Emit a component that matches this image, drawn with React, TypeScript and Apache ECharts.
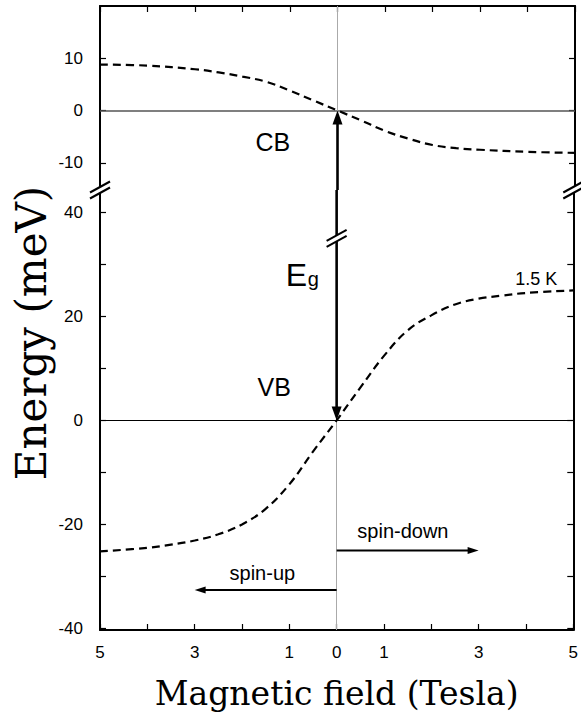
import React, { useEffect, useRef } from "react";
import * as echarts from "echarts";

// Magnetic field (Tesla); negative = spin-up side (left), positive = spin-down side (right)
const FIELD_CB = [-5, -4, -3, -2.5, -2, -1.5, -1, -0.5, 0, 0.5, 1, 1.5, 2, 2.5, 3, 4, 5];
const ENERGY_CB = [8.8, 8.6, 7.9, 7.3, 6.5, 5.5, 3.8, 1.9, 0, -1.9, -3.9, -5.4, -6.6, -7.2, -7.5, -7.9, -8.1];

const FIELD_VB = [-5, -4, -3.5, -3, -2.5, -2, -1.5, -1, -0.5, 0, 0.5, 1, 1.5, 2, 2.5, 3, 3.5, 4, 5];
const ENERGY_VB = [-25.2, -24.5, -23.9, -23.1, -21.9, -20.0, -17.0, -12.3, -6.0, 0, 6.3, 12.4, 17.3, 20.2, 22.3, 23.4, 24.0, 24.5, 25.0];

const X_TICK_LABELS = [-5, -3, -1, 0, 1, 3, 5];
const CB_TICKS = [-10, 0, 10];
const VB_TICKS = [-40, -30, -20, -10, 0, 10, 20, 30, 40];
const VB_TICK_LABELS = [-40, -20, 0, 20, 40];

const CB_MIN = -15.2;
const CB_MAX = 20;
const VB_MIN = -40.3;
const VB_MAX = 44.3;

const SANS = '"Liberation Sans", Arial, Helvetica, sans-serif';
const SERIF = '"DejaVu Serif", serif';

function arrow(from: number[], to: number[], width: number, headLen: number, headW: number) {
  const dx = to[0] - from[0];
  const dy = to[1] - from[1];
  const len = Math.sqrt(dx * dx + dy * dy) || 1;
  const ux = dx / len;
  const uy = dy / len;
  const nx = -uy;
  const ny = ux;
  const bx = to[0] - ux * headLen;
  const by = to[1] - uy * headLen;
  return [
    {
      type: "line",
      shape: { x1: from[0], y1: from[1], x2: to[0] - ux * headLen * 0.6, y2: to[1] - uy * headLen * 0.6 },
      style: { stroke: "#000", lineWidth: width },
    },
    {
      type: "polygon",
      shape: {
        points: [
          [to[0], to[1]],
          [bx + (nx * headW) / 2, by + (ny * headW) / 2],
          [bx - (nx * headW) / 2, by - (ny * headW) / 2],
        ],
      },
      style: { fill: "#000" },
    },
  ];
}

function breakMark(c: number[]) {
  const a = 10;
  const b = 5.5;
  const g = 3;
  const p1a = [c[0] - a, c[1] + b - g];
  const p2a = [c[0] + a, c[1] - b - g];
  const p1b = [c[0] - a, c[1] + b + g];
  const p2b = [c[0] + a, c[1] - b + g];
  return [
    { type: "polygon", shape: { points: [p1a, p2a, p2b, p1b] }, style: { fill: "#fff" } },
    { type: "line", shape: { x1: p1a[0], y1: p1a[1], x2: p2a[0], y2: p2a[1] }, style: { stroke: "#000", lineWidth: 2 } },
    { type: "line", shape: { x1: p1b[0], y1: p1b[1], x2: p2b[0], y2: p2b[1] }, style: { stroke: "#000", lineWidth: 2 } },
  ];
}

function txt(p: number[], text: string, size: number, align = "center") {
  return {
    type: "text",
    x: p[0],
    y: p[1],
    style: { text, fontSize: size, fontFamily: SANS, fill: "#000", align, verticalAlign: "middle" },
  };
}

export default function App() {
  const ref = useRef<HTMLDivElement>(null);

  useEffect(() => {
    if (!ref.current) return;
    const chart = echarts.init(ref.current, null, { renderer: "svg" });

    const axisLine = { show: true, onZero: false, lineStyle: { color: "#000", width: 2 } };
    const tick = { show: true, inside: true, length: 6, lineStyle: { color: "#000", width: 1.2 } };

    const option: any = {
      animation: false,
      backgroundColor: "#fff",
      grid: [
        { left: 100, right: 6, top: 6, height: 184 },
        { left: 100, right: 6, top: 190, height: 442 },
      ],
      xAxis: [
        {
          gridIndex: 0, type: "value", position: "top", min: -5, max: 5, interval: 1,
          axisLine, axisTick: tick, axisLabel: { show: false }, splitLine: { show: false },
        },
        {
          gridIndex: 1, type: "value", position: "bottom", min: -5, max: 5, interval: 1,
          axisLine, axisTick: tick, splitLine: { show: false },
          axisLabel: {
            show: true, customValues: X_TICK_LABELS, formatter: (v: number) => String(Math.abs(v)),
            fontSize: 17, fontFamily: SANS, color: "#000", margin: 14,
          },
          name: "Magnetic field (Tesla)", nameLocation: "middle", nameGap: 47,
          nameTextStyle: { fontSize: 33, fontFamily: SERIF, color: "#000" },
        },
      ],
      yAxis: [
        {
          gridIndex: 0, type: "value", position: "left", min: CB_MIN, max: CB_MAX,
          axisLine, axisTick: { ...tick, customValues: CB_TICKS }, splitLine: { show: false },
          axisLabel: { customValues: CB_TICKS, fontSize: 17, fontFamily: SANS, color: "#000", margin: 17 },
        },
        {
          gridIndex: 0, type: "value", position: "right", min: CB_MIN, max: CB_MAX,
          axisLine, axisTick: { ...tick, customValues: CB_TICKS }, splitLine: { show: false },
          axisLabel: { show: false },
        },
        {
          gridIndex: 1, type: "value", position: "left", min: VB_MIN, max: VB_MAX,
          axisLine, axisTick: { ...tick, customValues: VB_TICKS }, splitLine: { show: false },
          axisLabel: { customValues: VB_TICK_LABELS, fontSize: 17, fontFamily: SANS, color: "#000", margin: 17 },
        },
        {
          gridIndex: 1, type: "value", position: "right", min: VB_MIN, max: VB_MAX,
          axisLine, axisTick: { ...tick, customValues: VB_TICKS }, splitLine: { show: false },
          axisLabel: { show: false },
        },
      ],
      graphic: [
        {
          type: "text", x: 31, y: 333, rotation: Math.PI / 2,
          style: { text: "Energy (meV)", fontSize: 42, fontFamily: SERIF, fill: "#000", align: "center", verticalAlign: "middle" },
        },
      ],
      series: [
        {
          name: "CB", type: "line", xAxisIndex: 0, yAxisIndex: 0, smooth: 0.4, symbol: "none", z: 3,
          data: FIELD_CB.map((b, i) => [b, ENERGY_CB[i]]),
          lineStyle: { color: "#000", width: 2.2, type: [8, 5] },
          markLine: {
            silent: true, symbol: "none", label: { show: false }, z: 1,
            lineStyle: { type: "solid" },
            data: [
              { yAxis: 0, lineStyle: { color: "#555", width: 1.5, type: "solid" } },
              { xAxis: 0, lineStyle: { color: "#aaa", width: 1, type: "solid" } },
            ],
          },
        },
        {
          name: "VB", type: "line", xAxisIndex: 1, yAxisIndex: 2, smooth: 0.4, symbol: "none", z: 3,
          data: FIELD_VB.map((b, i) => [b, ENERGY_VB[i]]),
          lineStyle: { color: "#000", width: 2.2, type: [8, 5] },
          markLine: {
            silent: true, symbol: "none", label: { show: false }, z: 1,
            lineStyle: { type: "solid" },
            data: [
              { yAxis: 0, lineStyle: { color: "#000", width: 1, type: "solid" } },
              { xAxis: 0, lineStyle: { color: "#aaa", width: 1, type: "solid" } },
            ],
          },
        },
        {
          type: "custom", xAxisIndex: 0, yAxisIndex: 0, clip: false, z: 10, silent: true,
          data: [[0, 0]],
          renderItem: (_p: any, api: any) => {
            const start = api.coord([0, CB_MIN]);
            const tip = api.coord([0, 0]);
            return {
              type: "group",
              children: [
                ...arrow(start, tip, 2.6, 14, 10),
                txt(api.coord([-1.36, -6.1]), "CB", 25),
              ],
            };
          },
        },
        {
          type: "custom", xAxisIndex: 1, yAxisIndex: 2, clip: false, z: 10, silent: true,
          data: [[0, 0]],
          renderItem: (_p: any, api: any) => {
            const start = api.coord([0, VB_MAX]);
            const tip = api.coord([0, 0]);
            const ePos = api.coord([-0.85, 28]);
            return {
              type: "group",
              children: [
                ...arrow(start, tip, 2.6, 14, 10),
                ...breakMark(api.coord([0, 35])),
                ...breakMark(api.coord([-5, VB_MAX])),
                ...breakMark(api.coord([5, VB_MAX])),
                txt(ePos, "E", 32),
                txt([ePos[0] + 17, ePos[1] + 4], "g", 20),
                txt(api.coord([-1.32, 6.5]), "VB", 25),
                txt(api.coord([4.22, 27.2]), "1.5 K", 18),
                ...arrow(api.coord([0, -25]), api.coord([3, -25]), 2, 11, 7),
                txt(api.coord([1.4, -21.3]), "spin-down", 20),
                ...arrow(api.coord([0, -32.6]), api.coord([-3, -32.6]), 2, 11, 7),
                txt(api.coord([-1.57, -29.3]), "spin-up", 20),
              ],
            };
          },
        },
      ],
    };

    chart.setOption(option);
    return () => chart.dispose();
  }, []);

  return (
    <div
      ref={ref}
      style={{ position: "absolute", left: 0, top: 0, width: 581, height: 715, background: "#fff" }}
    />
  );
}
